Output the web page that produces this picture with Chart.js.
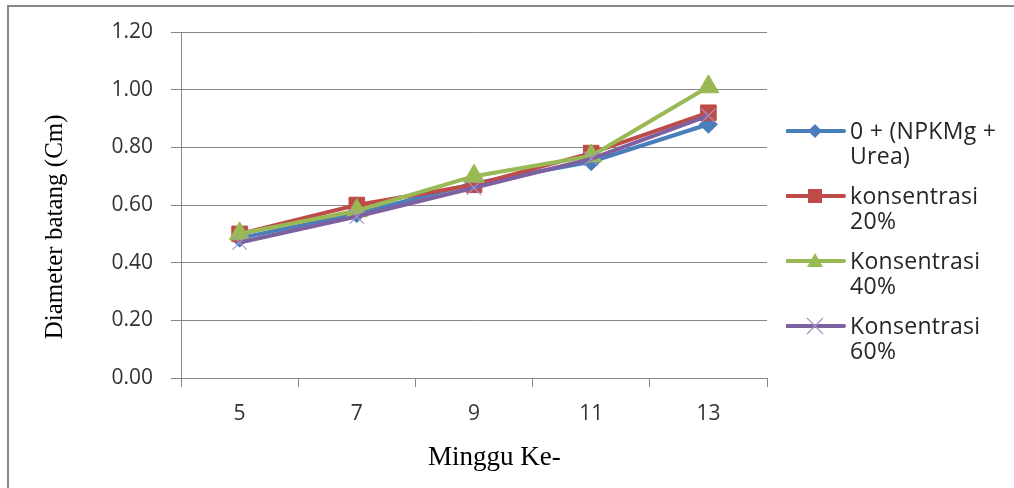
<!DOCTYPE html>
<html>
<head>
<meta charset="utf-8">
<script src="https://cdn.jsdelivr.net/npm/chart.js@4.4.1/dist/chart.umd.min.js"></script>
<style>
  body { margin: 0; background: #fff; overflow: hidden; }
  #wrap { position: relative; width: 1014px; height: 488px; }
  #frame { position: absolute; left: 7px; top: 5px; width: 1100px; height: 600px; border: 2px solid #878787; }
  #grafica { position: absolute; left: 0; top: 0; }
  #leyenda { position: absolute; left: 786px; top: 118px; font-family: "Open Sans", sans-serif; font-size: 23px; color: #262626; }
  .item { display: flex; align-items: flex-start; margin-bottom: 15px; }
  .item svg { flex: none; margin-top: 0px; }
  .item span { display: block; width: 165px; line-height: 25px; margin-left: 4px; letter-spacing: 0.3px; }
</style>
</head>
<body>
<div id="wrap">
  <div id="frame"></div>
  <canvas id="grafica" width="1014" height="488"></canvas>
  <div id="leyenda"></div>
</div>
<script>
// datos
const semanas = ['5', '7', '9', '11', '13'];
const etiquetas = ['0 + (NPKMg + Urea)', 'konsentrasi 20%', 'Konsentrasi 40%', 'Konsentrasi 60%'];
const control = [0.485, 0.57, 0.675, 0.75, 0.88];
const konsentrasi20 = [0.50, 0.60, 0.67, 0.78, 0.92];
const konsentrasi40 = [0.50, 0.58, 0.70, 0.77, 1.01];
const konsentrasi60 = [0.47, 0.56, 0.66, 0.76, 0.91];
const ticksY = [0, 0.2, 0.4, 0.6, 0.8, 1.0, 1.2];

const colores = ['#4A7EBB', '#BE4B48', '#98B954', '#7D60A0'];
const marcadores = ['rectRot', 'rect', 'triangle', 'crossRot'];
const radios = [9, 11, 12, 10];
const series = [control, konsentrasi20, konsentrasi40, konsentrasi60];

const datasets = series.map((s, i) => ({
  label: etiquetas[i],
  data: s,
  borderColor: colores[i],
  backgroundColor: colores[i],
  borderWidth: 4,
  pointStyle: marcadores[i],
  pointRadius: radios[i],
  pointBorderWidth: i === 3 ? 1.2 : 1,
  pointBorderColor: i === 3 ? '#A593C8' : colores[i],
  pointBackgroundColor: colores[i],
  tension: 0,
  order: 3 - i
}));

const gris = '#878787';
const nb = n => '\u00a0'.repeat(n);

new Chart(document.getElementById('grafica').getContext('2d'), {
  type: 'line',
  data: { labels: semanas, datasets: datasets },
  options: {
    responsive: false,
    animation: false,
    layout: { padding: { left: 24, top: 32, right: 247, bottom: 0 } },
    plugins: { legend: { display: false }, tooltip: { enabled: false } },
    scales: {
      x: {
        offset: true,
        grid: { offset: true, drawOnChartArea: false, drawTicks: true, tickLength: 9, color: gris },
        border: { color: gris, width: 1 },
        ticks: { color: '#333', padding: 14, font: { family: 'Open Sans', size: 21 } },
        title: {
          display: true,
          text: nb(6) + 'Minggu Ke-',
          color: '#000',
          font: { family: 'Liberation Serif', size: 27 },
          padding: { top: 0, bottom: 14 }
        },
        afterFit: scale => { scale.height = 110; }
      },
      y: {
        min: 0,
        max: 1.2,
        afterBuildTicks: scale => { scale.ticks = ticksY.map(v => ({ value: v })); },
        grid: { color: gris, drawTicks: true, tickLength: 10 },
        border: { color: gris, width: 1 },
        ticks: {
          color: '#333',
          padding: 18,
          font: { family: 'Open Sans', size: 21 },
          callback: v => Number(v).toFixed(2)
        },
        title: {
          display: true,
          text: 'Diameter batang (Cm)' + nb(7),
          color: '#000',
          font: { family: 'Liberation Serif', size: 25 },
          padding: { top: 16, bottom: 0 }
        },
        afterFit: scale => { scale.width = 157; }
      }
    }
  }
});

// leyenda en html, a la derecha
function dibujarMarcador(i) {
  const c = colores[i];
  let m = '';
  if (i === 0) m = `<polygon points="29,6 36,13 29,20 22,13" fill="${c}"/>`;
  if (i === 1) m = `<rect x="22" y="6" width="14" height="14" fill="${c}"/>`;
  if (i === 2) m = `<polygon points="29,5 37,19 21,19" fill="${c}"/>`;
  if (i === 3) m = `<path d="M21,5 L37,21 M37,5 L21,21" stroke="#A593C8" stroke-width="1.2"/>`;
  return `<svg width="60" height="26"><line x1="1" y1="13" x2="58" y2="13" stroke="${c}" stroke-width="4" stroke-linecap="round"/>${m}</svg>`;
}

const leyenda = document.getElementById('leyenda');
etiquetas.forEach((txt, i) => {
  const div = document.createElement('div');
  div.className = 'item';
  div.innerHTML = dibujarMarcador(i) + `<span>${txt}</span>`;
  leyenda.appendChild(div);
});
</script>
</body>
</html>
